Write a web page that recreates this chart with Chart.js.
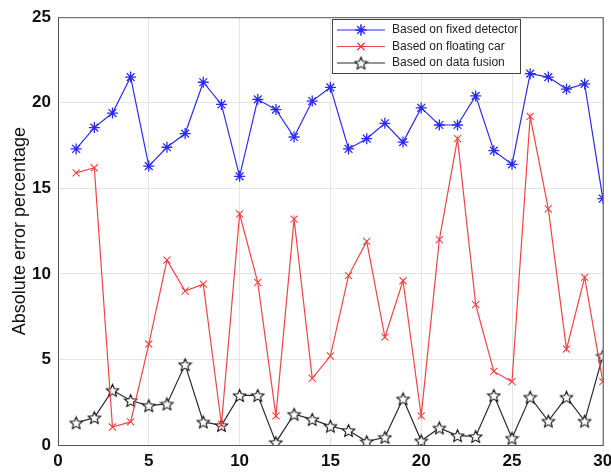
<!DOCTYPE html>
<html>
<head>
<meta charset="utf-8">
<script src="https://cdn.jsdelivr.net/npm/chart.js@4"></script>
<style>
  html, body { margin: 0; padding: 0; background: #fff; }
  #wrap { width: 611px; height: 475px; }
</style>
</head>
<body>
<div id="wrap"><canvas id="errChart" width="611" height="475"></canvas></div>
<script>
// sample index 1..30
const samples = Array.from({ length: 30 }, (_, i) => i + 1);

const fixedDetector = [17.3, 18.55, 19.4, 21.5, 16.3, 17.4, 18.2, 21.2, 19.9, 15.7,
  20.2, 19.6, 18.0, 20.1, 20.9, 17.3, 17.9, 18.8, 17.7, 19.7,
  18.7, 18.7, 20.4, 17.2, 16.4, 21.7, 21.5, 20.8, 21.1, 14.4];

const floatingCar = [15.9, 16.2, 1.05, 1.35, 5.9, 10.8, 9.0, 9.4, 1.2, 13.5,
  9.5, 1.7, 13.2, 3.9, 5.2, 9.9, 11.9, 6.3, 9.6, 1.7,
  12.0, 17.9, 8.2, 4.3, 3.7, 19.2, 13.8, 5.6, 9.8, 3.7];

const dataFusion = [1.3, 1.6, 3.2, 2.6, 2.3, 2.4, 4.7, 1.35, 1.15, 2.9,
  2.9, 0.15, 1.8, 1.5, 1.1, 0.85, 0.2, 0.45, 2.7, 0.25,
  1.0, 0.55, 0.5, 2.9, 0.4, 2.8, 1.4, 2.8, 1.4, 5.2];

const seriesNames = ['Based on fixed detector', 'Based on floating car', 'Based on data fusion'];
const xTicks = [0, 5, 10, 15, 20, 25, 30];
const yTicks = [0, 5, 10, 15, 20, 25];

// pentagram marker (MATLAB 'p'), white inside
function makePentagram(size, color) {
  const c = document.createElement('canvas');
  c.width = size; c.height = size;
  const g = c.getContext('2d');
  const cx = size / 2, cy = size / 2 + 0.7, R = size / 2 - 1, r = R * 0.45;
  g.beginPath();
  for (let i = 0; i < 10; i++) {
    const a = -Math.PI / 2 + i * Math.PI / 5;
    const rr = i % 2 === 0 ? R : r;
    const px = cx + rr * Math.cos(a), py = cy + rr * Math.sin(a);
    if (i === 0) g.moveTo(px, py); else g.lineTo(px, py);
  }
  g.closePath();
  g.fillStyle = '#fff';
  g.fill();
  g.strokeStyle = color;
  g.lineWidth = 1.1;
  g.stroke();
  return c;
}
const starIcon = makePentagram(15, '#111');

const blue = '#2b2bf0', red = '#f04444', black = '#2a2a2a';

// box around plot + legend drawn inside plot area (like matlab 'legend')
const matlabLook = {
  id: 'matlabLook',
  afterDraw(chart) {
    const ctx = chart.ctx, a = chart.chartArea;
    ctx.save();
    ctx.strokeStyle = '#555';
    ctx.lineWidth = 1;
    ctx.strokeRect(a.left + 0.5, a.top + 0.5, a.right - a.left, a.bottom - a.top);

    const bx = 332, by = 19, bw = 188, bh = 54;
    ctx.fillStyle = '#fff';
    ctx.fillRect(bx, by, bw, bh);
    ctx.strokeStyle = '#444';
    ctx.strokeRect(bx + 0.5, by + 0.5, bw, bh);
    ctx.font = '12px "Liberation Sans", Arial, sans-serif';
    ctx.textBaseline = 'middle';
    chart.data.datasets.forEach((ds, i) => {
      const y = by + 11 + i * 16.5;
      ctx.strokeStyle = ds.borderColor;
      ctx.lineWidth = 1.1;
      ctx.beginPath();
      ctx.moveTo(bx + 5, y);
      ctx.lineTo(bx + 53, y);
      ctx.stroke();
      if (ds.pointStyle instanceof HTMLCanvasElement) {
        ctx.drawImage(ds.pointStyle, bx + 29 - 7.5, y - 7.5);
      } else {
        Chart.helpers.drawPoint(ctx, {
          pointStyle: ds.pointStyle, radius: ds.pointRadius,
          borderWidth: ds.borderWidth, rotation: 0
        }, bx + 29, y);
        ctx.stroke();
      }
      ctx.fillStyle = '#222';
      ctx.fillText(ds.label, bx + 60, y);
    });
    ctx.restore();
  }
};

const ctx = document.getElementById('errChart').getContext('2d');
new Chart(ctx, {
  type: 'line',
  data: {
    labels: samples,
    datasets: [
      {
        label: seriesNames[0],
        data: samples.map((x, i) => ({ x, y: fixedDetector[i] })),
        borderColor: blue, backgroundColor: blue,
        borderWidth: 1.2, pointStyle: 'star', pointRadius: 5.5,
        pointBorderColor: blue, pointBorderWidth: 1.3, tension: 0
      },
      {
        label: seriesNames[1],
        data: samples.map((x, i) => ({ x, y: floatingCar[i] })),
        borderColor: red, backgroundColor: red,
        borderWidth: 1.2, pointStyle: 'crossRot', pointRadius: 5,
        pointBorderColor: red, pointBorderWidth: 1.1, tension: 0
      },
      {
        label: seriesNames[2],
        data: samples.map((x, i) => ({ x, y: dataFusion[i] })),
        borderColor: black, backgroundColor: black,
        borderWidth: 1.2, pointStyle: starIcon, pointRadius: 7, tension: 0
      }
    ]
  },
  options: {
    responsive: false,
    animation: false,
    layout: { padding: { top: 14, right: 8, left: 0, bottom: 0 } },
    plugins: { legend: { display: false }, tooltip: { enabled: false } },
    scales: {
      x: {
        type: 'linear', min: 0, max: 30,
        afterBuildTicks: s => { s.ticks = xTicks.map(v => ({ value: v })); },
        afterFit: s => { s.height = 30; s.paddingRight = 0; s.paddingLeft = 0; },
        grid: { color: '#e4e4e4', drawTicks: false },
        border: { color: '#555' },
        ticks: {
          color: '#111', padding: 6, maxRotation: 0,
          font: { family: '"Liberation Sans", Arial, sans-serif', size: 17, weight: 'bold' }
        }
      },
      y: {
        min: 0, max: 25,
        afterBuildTicks: s => { s.ticks = yTicks.map(v => ({ value: v })); },
        afterFit: s => { s.width = 58; },
        grid: { color: '#e4e4e4', drawTicks: false },
        border: { color: '#555' },
        title: {
          display: true, text: 'Absolute error percentage', color: '#111',
          padding: { top: 9, bottom: 0 },
          font: { family: '"Liberation Sans", Arial, sans-serif', size: 18 }
        },
        ticks: {
          color: '#111', padding: 7,
          font: { family: '"Liberation Sans", Arial, sans-serif', size: 17, weight: 'bold' }
        }
      }
    }
  },
  plugins: [matlabLook]
});
</script>
</body>
</html>
